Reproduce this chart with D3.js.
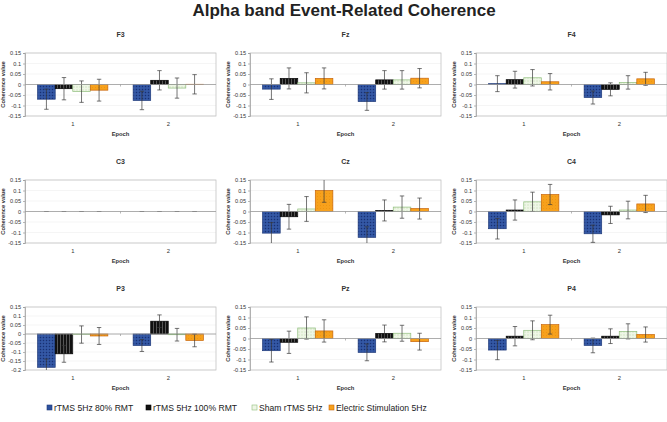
<!DOCTYPE html>
<html><head><meta charset="utf-8">
<script src="https://cdn.jsdelivr.net/npm/d3@7"></script>
<style>
html,body{margin:0;padding:0;background:#fff;}
svg{display:block;font-family:"Liberation Sans",Arial,sans-serif;}
</style></head>
<body><svg id="chart" width="667" height="422"></svg>
<script>
const electrodes = ["F3","Fz","F4","C3","Cz","C4","P3","Pz","P4"];
const epochs = ["1","2"];
const seriesNames = ["rTMS 5Hz 80% RMT","rTMS 5Hz 100% RMT","Sham rTMS 5Hz","Electric Stimulation 5Hz"];
// means and error half-lengths, [epoch1, epoch2] per electrode
const rtms80Mean = [[-0.07,-0.076],[-0.022,-0.081],[0.004,-0.062],[0,0],[-0.103,-0.123],[-0.082,-0.106],[-0.185,-0.064],[-0.058,-0.066],[-0.055,-0.033]];
const rtms80Err  = [[0.048,0.044],[0.049,0.042],[0.038,0.031],[0,0],[0.05,0.05],[0.049,0.041],[0.046,0.033],[0.054,0.04],[0.046,0.035]];
const rtms100Mean = [[-0.02,0.02],[0.029,0.022],[0.023,-0.023],[0,0],[-0.025,0.005],[0.007,-0.016],[-0.11,0.071],[-0.018,0.024],[0.011,0.011]];
const rtms100Err  = [[0.053,0.046],[0.05,0.044],[0.04,0.031],[0,0],[0.059,0.05],[0.048,0.041],[0.047,0.035],[0.053,0.04],[0.046,0.035]];
const shamMean = [[-0.034,-0.017],[0.008,0.022],[0.032,0.01],[0,0],[0.012,0.021],[0.046,0.007],[-0.003,-0.004],[0.05,0.025],[0.039,0.034]];
const shamErr  = [[0.051,0.048],[0.048,0.044],[0.039,0.032],[0,0],[0.059,0.053],[0.046,0.042],[0.048,0.035],[0.053,0.038],[0.045,0.036]];
const esMean = [[-0.027,0.001],[0.029,0.03],[0.013,0.027],[0,0],[0.1,0.014],[0.081,0.036],[-0.011,-0.036],[0.036,-0.015],[0.066,0.019]];
const esErr  = [[0.052,0.046],[0.05,0.046],[0.039,0.031],[0,0],[0.056,0.05],[0.048,0.041],[0.047,0.035],[0.053,0.04],[0.045,0.036]];
const yMaxAll = 0.15;
const yMinByPanel = [-0.15,-0.15,-0.15,-0.15,-0.15,-0.15,-0.2,-0.15,-0.15];
const yTicksStd = [0.15,0.1,0.05,0,-0.05,-0.1,-0.15];
const yTicksP3 = [0.15,0.1,0.05,0,-0.05,-0.1,-0.15,-0.2];

const means = [rtms80Mean, rtms100Mean, shamMean, esMean];
const errs = [rtms80Err, rtms100Err, shamErr, esErr];

const svg = d3.select("#chart");
const defs = svg.append("defs");

// patterns
const pBlue = defs.append("pattern").attr("id","pBlue").attr("width",3).attr("height",3).attr("patternUnits","userSpaceOnUse");
pBlue.append("rect").attr("width",3).attr("height",3).attr("fill","#2d519e");
pBlue.append("rect").attr("x",0).attr("y",0).attr("width",1).attr("height",1).attr("fill","#1a3070");
pBlue.append("rect").attr("x",1.5).attr("y",1.5).attr("width",1).attr("height",1).attr("fill","#4a6cb5");
const pBlack = defs.append("pattern").attr("id","pBlack").attr("width",3).attr("height",3).attr("patternUnits","userSpaceOnUse");
pBlack.append("rect").attr("width",3).attr("height",3).attr("fill","#111");
pBlack.append("rect").attr("x",2).attr("width",0.8).attr("height",3).attr("fill","#666");
const pGreen = defs.append("pattern").attr("id","pGreen").attr("width",3).attr("height",3).attr("patternUnits","userSpaceOnUse");
pGreen.append("rect").attr("width",3).attr("height",3).attr("fill","#eef6e6");
pGreen.append("rect").attr("x",0.5).attr("y",0.5).attr("width",1).attr("height",1).attr("fill","#bcd9a8");
const pOrange = defs.append("pattern").attr("id","pOrange").attr("width",3).attr("height",3).attr("patternUnits","userSpaceOnUse");
pOrange.append("rect").attr("width",3).attr("height",3).attr("fill","#f7a11c");
pOrange.append("rect").attr("x",1).attr("y",1).attr("width",1).attr("height",1).attr("fill","#ee9512");

const fills = ["url(#pBlue)","url(#pBlack)","url(#pGreen)","url(#pOrange)"];
const strokes = ["#1f3a7a","#000","#8fbe7c","#c8650c"];
const legendFills = ["#2d519e","#111","#eef6e6","#f7a11c"];

// title
svg.append("text").attr("x",344).attr("y",16).attr("text-anchor","middle")
  .attr("font-size",17).attr("font-weight","bold").attr("fill","#222")
  .text("Alpha band Event-Related Coherence");

const colLeft = [25, 250, 476];
const plotW = 191;
const rowTop = [53, 180, 307];
const plotH = 63;

electrodes.forEach((el, i) => {
  const r = Math.floor(i/3), c = i%3;
  const g = svg.append("g").attr("transform",`translate(${colLeft[c]},${rowTop[r]})`);
  const yMin = yMinByPanel[i];
  const y = d3.scaleLinear().domain([yMin, yMaxAll]).range([plotH, 0]);
  const x0 = d3.scaleBand().domain(epochs).range([0, plotW]).paddingInner(0).paddingOuter(0);
  const x1 = d3.scaleBand().domain(seriesNames).range([0, x0.bandwidth()]).paddingInner(0).paddingOuter(0.72);
  const ticks = (yMin === -0.2) ? yTicksP3 : yTicksStd;

  // gridlines
  g.selectAll(".grid").data(ticks).enter().append("line")
    .attr("x1",0).attr("x2",plotW).attr("y1",d=>y(d)).attr("y2",d=>y(d))
    .attr("stroke","#efefef").attr("stroke-width",0.6);
  // border
  g.append("rect").attr("x",0).attr("y",0).attr("width",plotW).attr("height",plotH)
    .attr("fill","none").attr("stroke","#c4c4c4").attr("stroke-width",0.8);

  // y axis
  const yAxis = d3.axisLeft(y).tickValues(ticks).tickSize(2).tickPadding(2)
    .tickFormat(d => d === 0 ? "0" : String(+d.toFixed(2)));
  const ya = g.append("g").call(yAxis);
  ya.select(".domain").attr("stroke","#999").attr("stroke-width",0.7);
  ya.selectAll(".tick line").attr("stroke","#999").attr("stroke-width",0.7);
  ya.selectAll(".tick text").attr("font-size",5.6).attr("fill","#333").attr("font-family","'Liberation Sans',Arial,sans-serif");

  // y title
  g.append("text").attr("transform",`translate(-20,${plotH/2}) rotate(-90)`)
    .attr("text-anchor","middle").attr("font-size",5.8).attr("font-weight","bold").attr("fill","#333")
    .text("Coherence value");

  // panel title
  g.append("text").attr("x",plotW/2).attr("y",-16).attr("text-anchor","middle")
    .attr("font-size",7).attr("font-weight","bold").attr("fill","#333").text(el);

  // clip
  const clipId = "clip"+i;
  defs.append("clipPath").attr("id",clipId).append("rect").attr("x",0).attr("y",0).attr("width",plotW).attr("height",plotH);
  const plot = g.append("g").attr("clip-path",`url(#${clipId})`);

  // bars
  const data = [];
  epochs.forEach((ep, e) => {
    seriesNames.forEach((s, k) => {
      data.push({ep, s, k, v: means[k][i][e], err: errs[k][i][e]});
    });
  });
  plot.selectAll(".bar").data(data.filter(d => d.v !== 0)).enter().append("rect")
    .attr("x", d => x0(d.ep) + x1(d.s))
    .attr("width", x1.bandwidth())
    .attr("y", d => y(Math.max(0, d.v)))
    .attr("height", d => Math.abs(y(d.v) - y(0)))
    .attr("fill", d => fills[d.k])
    .attr("stroke", d => strokes[d.k]).attr("stroke-width",0.7);

  // zero axis line
  g.append("line").attr("x1",0).attr("x2",plotW).attr("y1",y(0)).attr("y2",y(0))
    .attr("stroke","#9a9a9a").attr("stroke-width",0.8);
  // category boundary ticks on zero line
  g.selectAll(".ctick").data([x0.bandwidth()]).enter().append("line")
    .attr("x1",d=>d).attr("x2",d=>d).attr("y1",y(0)).attr("y2",y(0)+2)
    .attr("stroke","#9a9a9a").attr("stroke-width",0.7);

  // error bars
  const eb = plot.selectAll(".eb").data(data).enter().append("g")
    .attr("stroke","#3a3a3a").attr("stroke-width",0.7);
  const cx = d => x0(d.ep) + x1(d.s) + x1.bandwidth()/2;
  eb.append("line").attr("x1",cx).attr("x2",cx).attr("y1",d=>y(d.v+d.err)).attr("y2",d=>y(d.v-d.err));
  eb.append("line").attr("x1",d=>cx(d)-2.2).attr("x2",d=>cx(d)+2.2).attr("y1",d=>y(d.v+d.err)).attr("y2",d=>y(d.v+d.err));
  eb.append("line").attr("x1",d=>cx(d)-2.2).attr("x2",d=>cx(d)+2.2).attr("y1",d=>y(d.v-d.err)).attr("y2",d=>y(d.v-d.err));

  // category labels
  g.selectAll(".clab").data(epochs).enter().append("text")
    .attr("x", d => x0(d) + x0.bandwidth()/2).attr("y", plotH + 10)
    .attr("text-anchor","middle").attr("font-size",5.8).attr("fill","#333").text(d=>d);
  g.append("text").attr("x",plotW/2).attr("y",plotH + 20).attr("text-anchor","middle")
    .attr("font-size",5.8).attr("font-weight","bold").attr("fill","#333").text("Epoch");
});

// legend
const legendX = [47, 146, 252, 329];
const lg = svg.append("g").attr("transform","translate(0,408)");
seriesNames.forEach((s, k) => {
  const it = lg.append("g").attr("transform",`translate(${legendX[k]},0)`);
  it.append("rect").attr("x",0).attr("y",-3).attr("width",5).attr("height",5)
    .attr("fill",legendFills[k]).attr("stroke",strokes[k]).attr("stroke-width",0.6);
  it.append("text").attr("x",7).attr("y",2.8).attr("font-size",8.6).attr("fill","#222").text(s);
});
</script></body></html>
